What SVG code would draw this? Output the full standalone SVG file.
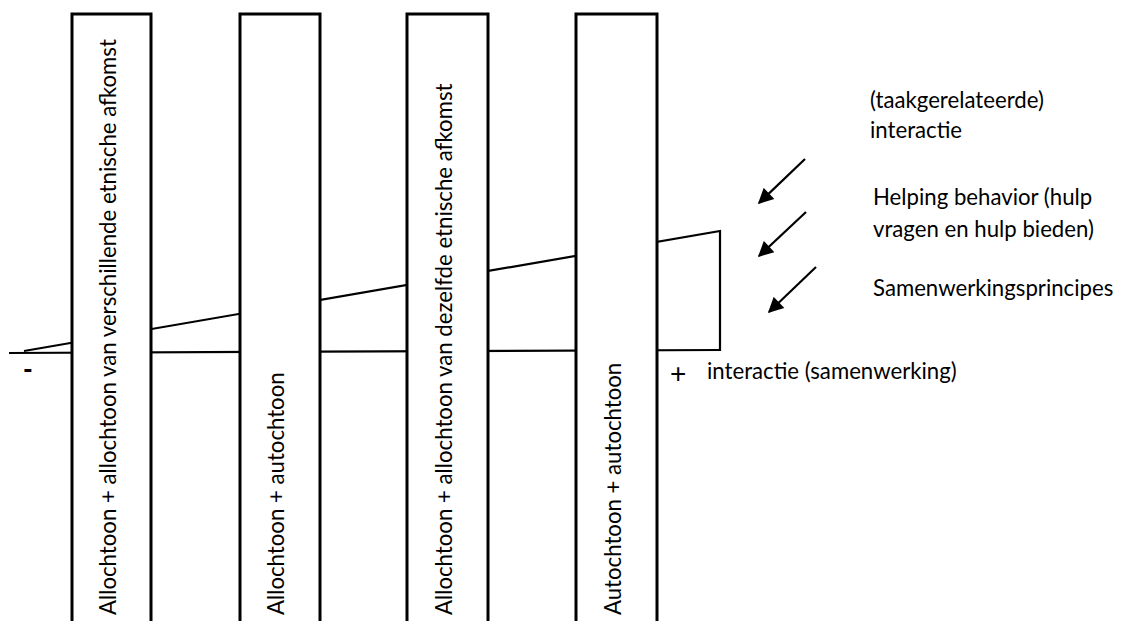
<svg xmlns="http://www.w3.org/2000/svg" width="1126" height="621" viewBox="0 0 1126 621">
<defs>
<style>
.t{font-family:Lato,"Open Sans","Liberation Sans",sans-serif;font-size:22.2px;fill:#000}
.box{fill:#fff;stroke:#000;stroke-width:3}
.ln{fill:none;stroke:#000;stroke-width:2.2}
.ar{fill:none;stroke:#000;stroke-width:2.2}
</style>
<marker id="ah" viewBox="0 0 10 10" refX="9" refY="5" markerWidth="7.5" markerHeight="7" markerUnits="strokeWidth" orient="auto">
<path d="M0,0 L10,5 L0,10 z" fill="#000"/>
</marker>
</defs>
<rect width="1126" height="621" fill="#fff"/>
<g id="connectors">
<line class="ln" x1="9" y1="353" x2="720" y2="350"/>
<polyline class="ln" points="24,351 720,231 720,351"/>
<line class="ar" x1="805" y1="159" x2="759" y2="203" marker-end="url(#ah)"/>
<line class="ar" x1="806" y1="212" x2="759" y2="256" marker-end="url(#ah)"/>
<line class="ar" x1="816" y1="267" x2="769" y2="312" marker-end="url(#ah)"/>
</g>
<g id="node1">
<rect class="box" x="72" y="14" width="79" height="640"/>
<text class="t" transform="translate(116,615) rotate(-90)">Allochtoon + allochtoon van verschillende etnische afkomst</text>
</g>
<g id="node2">
<rect class="box" x="240" y="14" width="80" height="640"/>
<text class="t" transform="translate(284,615) rotate(-90)">Allochtoon + autochtoon</text>
</g>
<g id="node3">
<rect class="box" x="407" y="14" width="81" height="640"/>
<text class="t" transform="translate(452,615) rotate(-90)">Allochtoon + allochtoon van dezelfde etnische afkomst</text>
</g>
<g id="node4">
<rect class="box" x="576" y="14" width="81" height="640"/>
<text class="t" transform="translate(621,615) rotate(-90)">Autochtoon + autochtoon</text>
</g>
<g id="labels">
<text class="t" x="23" y="379" style="font-weight:900;font-size:26px">-</text>
<text x="670" y="383" style="font-family:'Liberation Sans',sans-serif;font-size:28px;fill:#000">+</text>
<text class="t" x="707" y="379">interactie (samenwerking)</text>
<text class="t" x="870" y="108">(taakgerelateerde)</text>
<text class="t" x="870" y="138">interactie</text>
<text class="t" x="873" y="205">Helping behavior (hulp</text>
<text class="t" x="873" y="237">vragen en hulp bieden)</text>
<text class="t" x="873" y="296">Samenwerkingsprincipes</text>
</g>
</svg>
